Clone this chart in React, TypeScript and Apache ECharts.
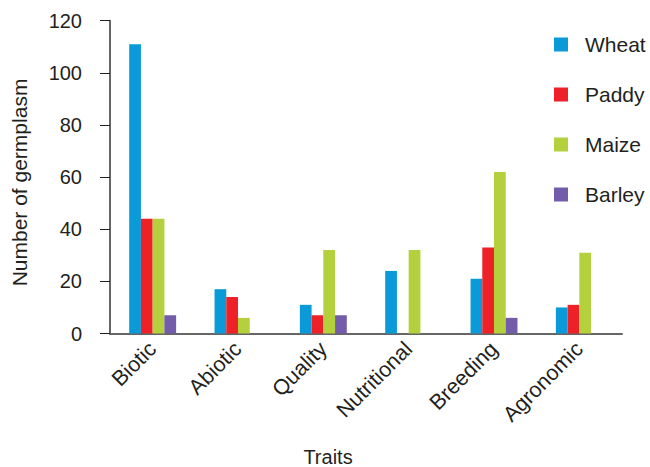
import React, { useEffect, useRef } from "react";
import * as echarts from "echarts";

const categories = ["Biotic", "Abiotic", "Quality", "Nutritional", "Breeding", "Agronomic"];
const seriesNames = ["Wheat", "Paddy", "Maize", "Barley"];
const wheat = [111, 17, 11, 24, 21, 10];
const paddy = [44, 14, 7, null, 33, 11];
const maize = [44, 6, 32, 32, 62, 31];
const barley = [7, null, 7, null, 6, null];
const colors = ["#0a9ad8", "#ee2129", "#b4d03c", "#735ca9"];
const yTicks = [0, 20, 40, 60, 80, 100, 120];

const FONT = "'Liberation Sans', Arial, sans-serif";

export default function App() {
  const ref = useRef<HTMLDivElement>(null);
  useEffect(() => {
    if (!ref.current) return;
    const chart = echarts.init(ref.current, undefined, { renderer: "svg" });
    const data = [wheat, paddy, maize, barley];
    chart.setOption({
      animation: false,
      backgroundColor: "#ffffff",
      textStyle: { fontFamily: FONT },
      grid: { left: 110, right: 28, top: 20.7, bottom: 133.5, containLabel: false },
      legend: {
        orient: "vertical",
        left: 554,
        top: 34,
        padding: 0,
        itemWidth: 14,
        itemHeight: 14,
        itemGap: 29,
        icon: "rect",
        data: seriesNames,
        textStyle: { fontSize: 21, color: "#231f20", fontFamily: FONT, padding: [0, 0, 0, 12] },
      },
      xAxis: {
        type: "category",
        data: categories,
        axisLine: { show: true, lineStyle: { color: "#666666", width: 2 } },
        axisTick: { show: false },
        axisLabel: {
          rotate: 45,
          fontSize: 21.5,
          color: "#231f20",
          margin: 12,
          fontFamily: FONT,
          interval: 0,
          padding: [8, 0, 0, 0],
        },
        splitLine: { show: false },
      },
      yAxis: {
        type: "value",
        min: yTicks[0],
        max: yTicks[yTicks.length - 1],
        interval: 20,
        axisLine: { show: true, lineStyle: { color: "#666666", width: 2 } },
        axisTick: { show: true, length: 10, lineStyle: { color: "#231f20", width: 1 } },
        axisLabel: { fontSize: 20, color: "#231f20", margin: 28, fontFamily: FONT },
        splitLine: { show: false },
      },
      series: seriesNames.map((name, i) => ({
        name,
        type: "bar",
        data: data[i],
        itemStyle: { color: colors[i] },
        barGap: "0%",
        barCategoryGap: "45%",
      })),
      graphic: [
        {
          type: "text",
          x: 328,
          y: 457,
          style: { text: "Traits", fontSize: 20, fill: "#231f20", fontFamily: FONT, align: "center", verticalAlign: "middle" },
        },
        {
          type: "text",
          x: 19.5,
          y: 182.5,
          rotation: Math.PI / 2,
          style: { text: "Number of germplasm", fontSize: 21, fill: "#231f20", fontFamily: FONT, align: "center", verticalAlign: "middle" },
        },
      ],
    });
    return () => chart.dispose();
  }, []);
  return <div ref={ref} style={{ width: 650, height: 467, position: "absolute", left: 0, top: 0 }} />;
}
